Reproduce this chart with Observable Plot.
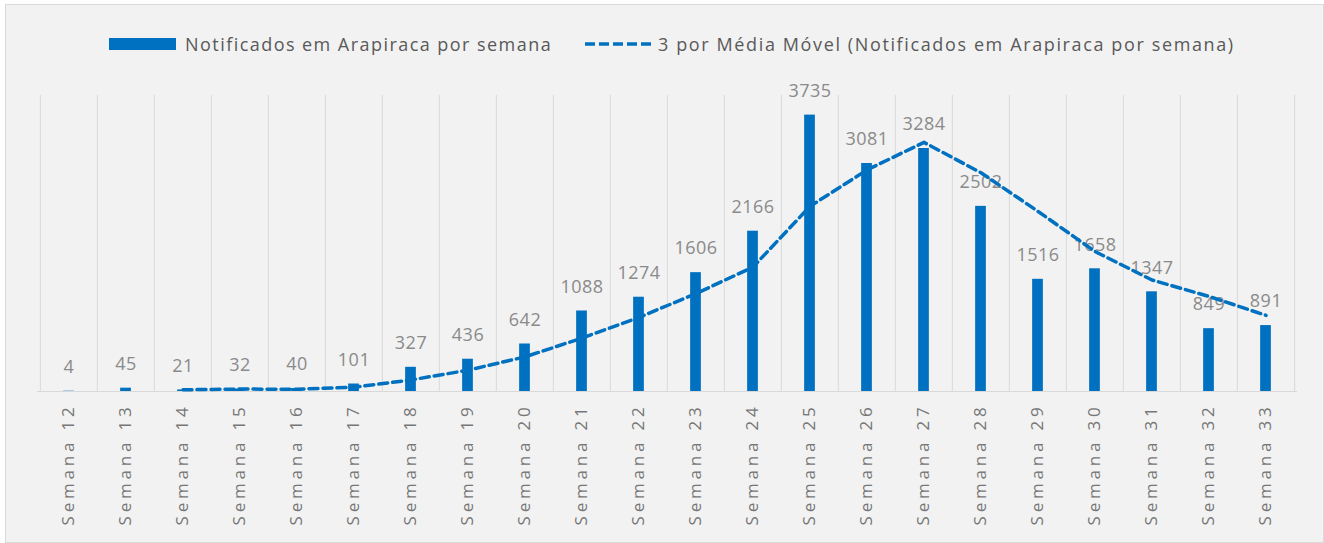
<!DOCTYPE html>
<html><head><meta charset="utf-8">
<script src="https://cdn.jsdelivr.net/npm/d3@7"></script>
<script src="https://cdn.jsdelivr.net/npm/@observablehq/plot@0.6"></script>
<style>
body{margin:0;background:#fff;width:1324px;height:543px;overflow:hidden;font-family:"Open Sans",sans-serif;position:relative;}
#panel{position:absolute;left:5px;top:4px;width:1319px;height:539px;background:#f2f2f2;border:1px solid #d9d9d9;box-sizing:border-box;}
#chart{position:absolute;left:0;top:0;}
.leg{position:absolute;height:30px;display:flex;align-items:center;color:#595959;font-size:18px;letter-spacing:1.45px;white-space:nowrap;}
#chart svg g[aria-label="x-axis tick label"] text{font-size:17px;letter-spacing:3.8px;}
#chart svg g[aria-label="text"] text{letter-spacing:0.5px;}
</style></head>
<body>
<div id="panel">
  <div class="leg" style="left:103px;top:24px;"><div style="width:67px;height:12px;background:#0070c0;"></div></div>
  <div id="chart"></div>
  <div class="leg" style="left:179px;top:24px;">Notificados em Arapiraca por semana</div>
  <div class="leg" style="left:579px;top:24px;"><svg width="70" height="10"><line x1="0" y1="5" x2="70" y2="5" stroke="#0070c0" stroke-width="3.5" stroke-dasharray="10,4"/></svg></div>
  <div class="leg" style="left:652px;top:24px;letter-spacing:1.62px;">3 por Média Móvel (Notificados em Arapiraca por semana)</div>
</div>
<script>
const weeks = ["Semana 12","Semana 13","Semana 14","Semana 15","Semana 16","Semana 17","Semana 18","Semana 19","Semana 20","Semana 21","Semana 22","Semana 23","Semana 24","Semana 25","Semana 26","Semana 27","Semana 28","Semana 29","Semana 30","Semana 31","Semana 32","Semana 33"];
const notified = [4,45,21,32,40,101,327,436,642,1088,1274,1606,2166,3735,3081,3284,2502,1516,1658,1347,849,891];
const maWeeks = weeks.slice(2);
const movingAvg = [23.3,32.7,31,57.7,156,288,468.3,722,1001.3,1322.7,1682,2502.3,2994,3366.7,2955.7,2434,1892,1507,1284.7,1029];

const bars = weeks.map((w,i)=>({week:w, n:notified[i]}));
const ma = maWeeks.map((w,i)=>({week:w, v:movingAvg[i]}));

const W = 1317, H = 537, mL = 31, mR = 26;
const step = (W - mL - mR) / weeks.length;
const barW = 11;
const blue = "#0070c0";

const chart = Plot.plot({
  width: W, height: H,
  marginLeft: mL, marginRight: mR, marginTop: 90, marginBottom: 151,
  style: {background: "transparent", fontFamily: "'Open Sans', sans-serif", fontSize: "16px", color: "#767676", overflow: "visible"},
  x: {domain: weeks, padding: 0, tickRotate: -90, tickSize: 0, tickPadding: 12, label: null},
  y: {domain: [0, 4000], axis: null},
  marks: [
    Plot.ruleX(weeks, {x: d => d, y1: 0, y2: 4000, dx: -step/2, stroke: "#d9d9d9", strokeWidth: 1}),
    Plot.ruleX([weeks[weeks.length-1]], {x: d => d, y1: 0, y2: 4000, dx: step/2, stroke: "#d9d9d9", strokeWidth: 1}),
    Plot.ruleY([0], {stroke: "#d9d9d9", strokeWidth: 1}),
    Plot.barY(bars, {x: "week", y: "n", fill: blue, insetLeft: (step-barW)/2, insetRight: (step-barW)/2}),
    Plot.text(bars, {x: "week", y: "n", text: d => String(d.n), dy: -24, fill: "#8a8a8a", fontSize: 18}),
    Plot.line(ma, {x: "week", y: "v", stroke: blue, strokeWidth: 3.5, strokeDasharray: "9,5"})
  ]
});
document.getElementById("chart").appendChild(chart);
</script>
</body></html>
